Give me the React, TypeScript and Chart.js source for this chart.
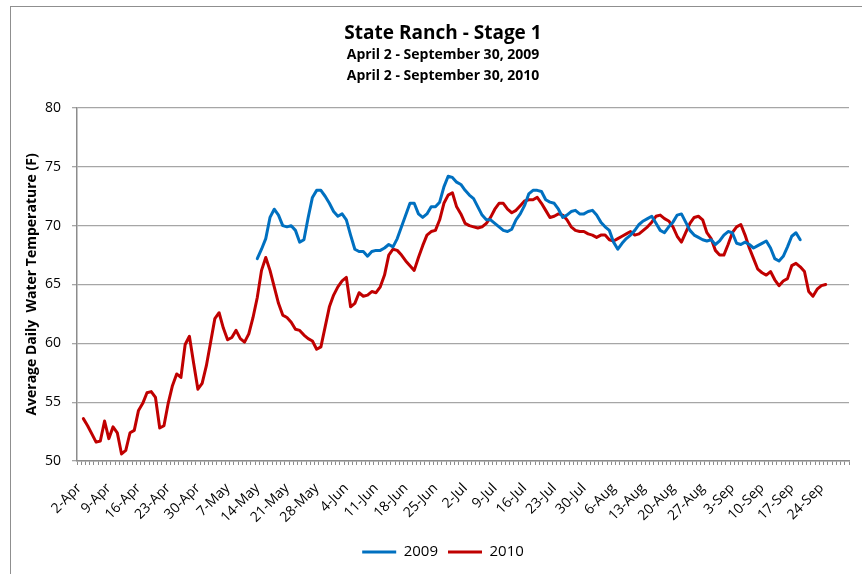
import React, { useEffect, useRef } from "react";
import { Chart, registerables } from "chart.js";

Chart.register(...registerables);

// ---- Data -------------------------------------------------------------
// Daily categories, 2-Apr .. 30-Sep
const MONTHS: [string, number, number][] = [
  ["Apr", 2, 30],
  ["May", 1, 31],
  ["Jun", 1, 30],
  ["Jul", 1, 31],
  ["Aug", 1, 31],
  ["Sep", 1, 30],
];
const CATEGORIES: string[] = [];
MONTHS.forEach(([m, from, to]) => {
  for (let d = from; d <= to; d++) CATEGORIES.push(`${d}-${m}`);
});

const TICK_LABELS = [
  "2-Apr", "9-Apr", "16-Apr", "23-Apr", "30-Apr", "7-May", "14-May", "21-May",
  "28-May", "4-Jun", "11-Jun", "18-Jun", "25-Jun", "2-Jul", "9-Jul", "16-Jul",
  "23-Jul", "30-Jul", "6-Aug", "13-Aug", "20-Aug", "27-Aug", "3-Sep", "10-Sep",
  "17-Sep", "24-Sep",
];

const Y_TICKS = [50, 55, 60, 65, 70, 75, 80];

const FIRST_DAY_2009 = "14-May";
const VALUES_2009 = [
  67.2, 68.0, 68.9, 70.7, 71.4, 70.9, 70.0, 69.9, 70.0, 69.6,
  68.6, 68.8, 70.7, 72.4, 73.0, 73.0, 72.5, 71.9, 71.2, 70.8,
  71.0, 70.5, 69.2, 68.0, 67.8, 67.8, 67.4, 67.8, 67.9, 67.9,
  68.1, 68.4, 68.2, 68.9, 69.9, 70.9, 71.9, 71.9, 71.0, 70.7,
  71.0, 71.6, 71.6, 72.0, 73.3, 74.2, 74.1, 73.7, 73.5, 73.0,
  72.6, 72.3, 71.6, 70.9, 70.5, 70.5, 70.2, 69.9, 69.6, 69.5,
  69.7, 70.5, 71.0, 71.7, 72.7, 73.0, 73.0, 72.9, 72.2, 72.0,
  71.9, 71.4, 70.7, 70.9, 71.2, 71.3, 71.0, 71.0, 71.2, 71.3,
  70.9, 70.3, 69.9, 69.6, 68.6, 68.0, 68.5, 68.9, 69.2, 69.6,
  70.1, 70.4, 70.6, 70.8, 70.2, 69.6, 69.4, 69.9, 70.3, 70.9,
  71.0, 70.3, 69.6, 69.2, 69.0, 68.8, 68.7, 68.8, 68.4, 68.7,
  69.2, 69.5, 69.4, 68.5, 68.4, 68.6, 68.4, 68.1, 68.3, 68.5,
  68.7, 68.1, 67.2, 67.0, 67.4, 68.2, 69.1, 69.4, 68.8,
];

const FIRST_DAY_2010 = "3-Apr";
const VALUES_2010 = [
  53.6, 53.0, 52.3, 51.6, 51.7, 53.4, 51.9, 52.9, 52.4, 50.6,
  50.9, 52.4, 52.6, 54.3, 54.9, 55.8, 55.9, 55.4, 52.8, 53.0,
  54.9, 56.4, 57.4, 57.1, 59.9, 60.6, 58.3, 56.1, 56.6, 58.1,
  60.1, 62.1, 62.6, 61.3, 60.3, 60.5, 61.1, 60.4, 60.1, 60.8,
  62.2, 63.9, 66.2, 67.3, 66.2, 64.8, 63.4, 62.4, 62.2, 61.8,
  61.2, 61.1, 60.7, 60.4, 60.2, 59.5, 59.7, 61.4, 63.1, 64.1,
  64.8, 65.3, 65.6, 63.1, 63.4, 64.3, 64.0, 64.1, 64.4, 64.3,
  64.8, 65.8, 67.5, 68.0, 67.9, 67.5, 67.0, 66.6, 66.2, 67.3,
  68.3, 69.2, 69.5, 69.6, 70.5, 71.9, 72.6, 72.8, 71.6, 71.0,
  70.2, 70.0, 69.9, 69.8, 69.9, 70.2, 70.7, 71.4, 71.9, 71.9,
  71.4, 71.1, 71.3, 71.7, 72.1, 72.2, 72.2, 72.4, 71.9, 71.3,
  70.7, 70.8, 71.0, 70.9, 70.5, 69.9, 69.6, 69.5, 69.5, 69.3,
  69.2, 69.0, 69.2, 69.2, 68.8, 68.7, 68.9, 69.1, 69.3, 69.5,
  69.2, 69.3, 69.6, 69.9, 70.3, 70.8, 70.9, 70.6, 70.4, 69.9,
  69.1, 68.6, 69.4, 70.2, 70.7, 70.8, 70.5, 69.4, 68.9, 67.9,
  67.5, 67.5, 68.4, 69.4, 69.9, 70.1, 69.2, 68.1, 67.2, 66.3,
  66.0, 65.8, 66.1, 65.4, 64.9, 65.3, 65.5, 66.6, 66.8, 66.5,
  66.1, 64.4, 64.0, 64.6, 64.9, 65.0,
];

const SERIES_NAMES = ["2009", "2010"];
const SERIES_COLORS = ["#0070C0", "#C00000"];

function alignToCategories(first: string, values: number[]): (number | null)[] {
  const start = CATEGORIES.indexOf(first);
  return CATEGORIES.map((_, i) => {
    const k = i - start;
    return k >= 0 && k < values.length ? values[k] : null;
  });
}

const FONT = "'Open Sans', 'Noto Sans', 'Liberation Sans', sans-serif";

export default function App() {
  const canvasRef = useRef<HTMLCanvasElement>(null);

  useEffect(() => {
    const canvas = canvasRef.current;
    if (!canvas) return;
    const chart = new Chart(canvas, {
      type: "line",
      data: {
        labels: CATEGORIES,
        datasets: [
          {
            label: SERIES_NAMES[0],
            data: alignToCategories(FIRST_DAY_2009, VALUES_2009),
            borderColor: SERIES_COLORS[0],
            backgroundColor: SERIES_COLORS[0],
            borderWidth: 3,
            pointRadius: 0,
            tension: 0,
            borderCapStyle: "round",
            borderJoinStyle: "round",
          },
          {
            label: SERIES_NAMES[1],
            data: alignToCategories(FIRST_DAY_2010, VALUES_2010),
            borderColor: SERIES_COLORS[1],
            backgroundColor: SERIES_COLORS[1],
            borderWidth: 3,
            pointRadius: 0,
            tension: 0,
            borderCapStyle: "round",
            borderJoinStyle: "round",
          },
        ],
      },
      options: {
        responsive: false,
        animation: false,
        devicePixelRatio: 1,
        layout: { padding: { left: 37, right: 13, top: 0, bottom: 4.5 } },
        scales: {
          x: {
            type: "category",
            offset: true,
            afterFit: (scale: any) => {
              scale.height = 73.5;
              scale.paddingLeft = 0;
              scale.paddingRight = 0;
            },
            grid: {
              display: true,
              drawOnChartArea: false,
              drawTicks: true,
              tickLength: 4,
              offset: true,
              color: "#8c8c8c",
              lineWidth: 1,
            },
            border: { display: true, color: "#8c8c8c", width: 1.5 },
            ticks: {
              autoSkip: false,
              maxRotation: 45,
              minRotation: 45,
              padding: 15,
              color: "#000",
              font: { family: FONT, size: 14 },
              callback: (_v: any, index: number) => {
                const lbl = CATEGORIES[index];
                return TICK_LABELS.includes(lbl) ? lbl : "";
              },
            },
          },
          y: {
            min: Y_TICKS[0],
            max: Y_TICKS[Y_TICKS.length - 1],
            afterFit: (scale: any) => {
              scale.width = 40;
            },
            afterBuildTicks: (scale: any) => {
              scale.ticks = Y_TICKS.map((v) => ({ value: v }));
            },
            grid: {
              color: "#a6a6a6",
              lineWidth: 1.3,
              drawTicks: true,
              tickLength: 5,
            },
            border: { display: true, color: "#8c8c8c", width: 1.5 },
            ticks: {
              padding: 11,
              color: "#000",
              font: { family: FONT, size: 14 },
            },
            title: {
              display: true,
              text: "Average Daily  Water Temperature (F)",
              color: "#000",
              font: { family: FONT, size: 14, weight: "bold" },
              padding: { top: -13.4, bottom: 0 },
            },
          },
        },
        plugins: {
          title: {
            display: true,
            text: "State Ranch - Stage 1",
            color: "#000",
            font: { family: FONT, size: 19, weight: "bold", lineHeight: "20px" },
            padding: { top: 24, bottom: 0 },
          },
          subtitle: {
            display: true,
            text: ["April 2 - September 30, 2009", "April 2 - September 30, 2010"],
            color: "#000",
            font: { family: FONT, size: 14, weight: "bold", lineHeight: "21px" },
            padding: { top: 1, bottom: 21 },
          },
          legend: {
            display: true,
            position: "bottom",
            labels: {
              usePointStyle: true,
              pointStyle: "line",
              pointStyleWidth: 34,
              boxHeight: 15,
              padding: 10,
              color: "#000",
              font: { family: FONT, size: 15 },
            },
          },
          tooltip: { enabled: false },
        },
      } as any,
    });
    return () => chart.destroy();
  }, []);

  return (
    <div
      style={{
        position: "fixed",
        left: 0,
        top: 0,
        width: 862,
        height: 574,
        overflow: "hidden",
        background: "#fff",
      }}
    >
      <div
        style={{
          position: "absolute",
          left: 10,
          top: 6,
          width: 900,
          height: 600,
          borderLeft: "1px solid #8f8f8f",
          borderTop: "1px solid #8f8f8f",
        }}
      />
      <canvas
        ref={canvasRef}
        width={862}
        height={574}
        style={{ position: "absolute", left: 0, top: 0, width: 862, height: 574 }}
      />
    </div>
  );
}
